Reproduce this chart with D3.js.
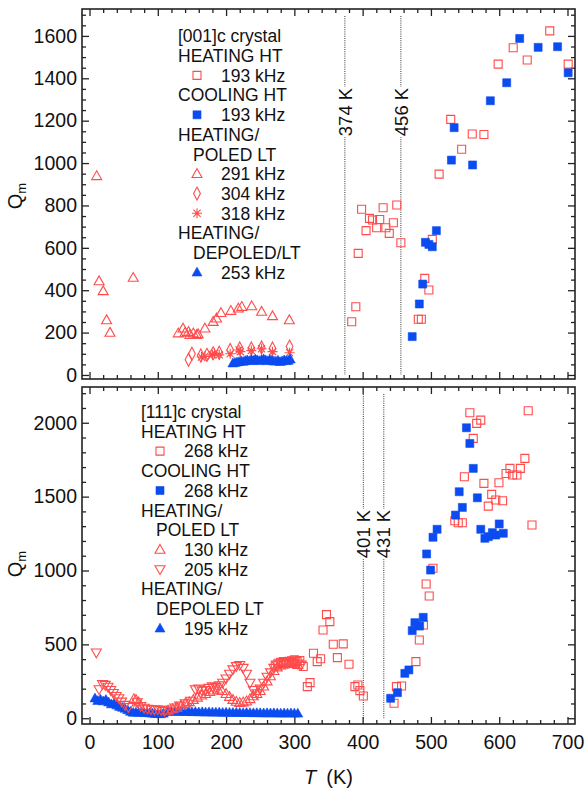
<!DOCTYPE html>
<html lang="en">
<head>
<meta charset="utf-8">
<title>Qm versus temperature</title>
<script src="https://cdn.jsdelivr.net/npm/d3@7"></script>
<style>
  body { margin: 0; background: #fff; }
  svg text { font-family: "Liberation Sans", Arial, Helvetica, sans-serif; fill: #111; }
</style>
</head>
<body>
<script>

// ---------- data ----------

// shared x axis (T in K)
var xTicks = [0, 100, 200, 300, 400, 500, 600, 700];

// top panel: [001]c crystal
var topYTicks = [0, 200, 400, 600, 800, 1000, 1200, 1400, 1600];
var topLines = [374, 456];

var topHeatT = [384, 390, 393.5, 398.5, 405, 410, 414.5, 420.5, 425, 430, 434, 439, 445, 450, 456,
                481.5, 486, 491, 497, 502, 512, 529, 545, 560.5, 577.6, 598.5, 620.5, 641, 674, 701];
var topHeatQ = [251, 322, 574, 782, 681, 739, 731, 695, 734, 789, 695, 668, 718, 802, 624,
                263, 263, 456, 401, 640, 948, 1206, 1065, 1137, 1135, 1467, 1544, 1486, 1624, 1467];

var topCoolT = [472.6, 483, 488, 492, 497, 502, 508, 530, 534, 561, 587, 611, 630, 657, 685.5, 701];
var topCoolQ = [181, 335, 429, 626, 616, 605, 681, 1014, 1167, 991, 1294, 1379, 1588, 1546, 1549, 1426];

var top291T = [10.5, 14, 20, 25, 30, 64, 130, 137, 140, 145, 147, 152, 157, 159, 169, 181, 186, 192.5,
               207, 218, 223, 237.5, 252, 268, 292.6];
var top291Q = [939, 443, 396, 259, 200, 459, 197, 220, 200, 204, 189, 197, 189, 193, 220, 251, 267, 293,
               303, 314, 322, 325, 299, 278, 259];

var top304T = [145, 150, 163, 172, 181, 190, 206, 220, 237, 252, 268, 293];
var top304Q = [72, 100, 92, 95, 102, 105, 118, 125, 125, 130, 125, 134];

var top318T = [164, 169, 180, 183, 190, 206, 219, 221, 237, 252, 268, 293];
var top318Q = [85, 88, 95, 102, 95, 100, 118, 110, 115, 124, 110, 105];

var top253T = [210, 213, 216, 219, 222, 225, 228, 231, 234, 237, 240, 243, 246, 249, 252, 255, 258,
               261, 264, 267, 270, 273, 276, 279, 282, 285, 288, 291, 294];
var top253Q = [55, 58, 60, 62, 65, 63, 67, 70, 66, 72, 68, 74, 70, 66, 72, 75, 70, 66, 72, 68, 65,
               64, 68, 62, 65, 70, 66, 68, 74];

// bottom panel: [111]c crystal
var botYTicks = [0, 500, 1000, 1500, 2000];
var botLines = [401, 431];

var botHeatT = [272, 276, 280, 284, 288, 292, 296, 300, 304, 308, 313, 319, 323, 328, 333.5, 338.5,
                342, 347, 352, 357, 363, 371.6, 380, 388.7, 393, 396, 401, 446, 449.5, 457, 478, 483,
                489, 493, 497.5, 503, 535, 540, 546, 549, 557, 562, 567, 573, 577.6, 584, 589, 595,
                599.6, 605, 610, 615.7, 619.6, 626, 631, 637.6, 642.5, 648];
var botHeatQ = [360, 372, 378, 383, 380, 385, 388, 395, 383, 390, 350, 214, 241, 440, 383, 403,
                597, 701, 654, 501, 410, 503, 365, 214, 225, 187, 151, 101, 214, 218, 383, 530,
                631, 909, 827, 1015, 1337, 1323, 1323, 1635, 2068, 1894, 1996, 2018, 1590, 1436, 1515, 1477,
                1594, 1472, 1657, 1691, 1646, 1646, 1691, 1759, 2081, 1308];

var botCoolT = [441, 451, 461.8, 467.7, 472.6, 476.5, 483.5, 488.7, 493.7, 499.5, 503, 509, 536, 541.4,
                546, 552, 557, 562, 568, 573, 579, 584, 590, 595, 600, 606];
var botCoolQ = [135, 173, 304, 327, 593, 647, 624, 683, 1112, 1003, 1225, 1279, 1375, 1533,
                1427, 1966, 1860, 1691, 1492, 1279, 1218, 1229, 1256, 1240, 1315, 1252];

var bot130T = [65, 68, 72, 115, 122, 128, 134, 140, 146, 152, 158, 164, 170, 176, 182, 188, 194, 200,
               205, 210, 215, 220, 225, 230, 235, 240, 245, 250, 255, 260, 265, 270, 275, 280, 285,
               290, 295, 300, 305];
var bot130Q = [130, 125, 108, 52, 62, 72, 85, 98, 110, 125, 140, 155, 165, 178, 188, 195, 185, 165,
               145, 125, 112, 105, 108, 115, 130, 150, 165, 185, 215, 250, 285, 320, 345, 358, 365,
               370, 368, 372, 362];

var bot205T = [10, 14, 19, 23, 27, 31, 35, 39, 43, 47, 52, 57, 70, 75, 80, 85, 90, 95, 100, 105, 110,
               118, 125, 132, 140, 148, 155, 160, 165, 170, 175, 180, 185, 190, 195, 200, 205, 210,
               215, 220, 225, 230, 235, 240, 245, 250, 255, 260, 265, 270, 275, 280, 285, 290, 295,
               300, 305, 310];
var bot205Q = [444, 196, 230, 225, 212, 190, 170, 150, 135, 112, 90, 75, 108, 82, 70, 64, 60, 58, 60,
               55, 48, 58, 72, 85, 100, 118, 195, 200, 185, 190, 205, 215, 210, 222, 240, 268, 300,
               330, 352, 360, 340, 300, 240, 190, 168, 200, 240, 280, 310, 340, 358, 368, 372, 375,
               380, 376, 370, 362];

var bot195T = [8, 12, 16, 20, 24, 28, 32, 36, 40, 44, 48, 52, 56, 60, 64, 68, 72, 76, 80, 84, 88, 92,
               96, 100, 104, 108, 115, 120, 125, 130, 135, 140, 145, 150, 155, 160, 165, 170, 175,
               180, 185, 190, 195, 200, 205, 210, 215, 220, 225, 230, 235, 240, 245, 250, 255, 260,
               265, 270, 275, 280, 285, 290, 295, 300, 305];
var bot195Q = [135, 118, 128, 115, 125, 108, 95, 100, 88, 78, 72, 65, 55, 45, 38, 40, 38, 40, 36, 37,
               34, 33, 30, 30, 28, 32, 44, 45, 46, 44, 45, 43, 44, 42, 43, 41, 42, 40, 41, 40, 39,
               40, 38, 39, 38, 37, 38, 37, 36, 37, 36, 35, 36, 35, 34, 35, 34, 35, 34, 33, 34, 33,
               34, 33, 32];

// ---------- layout ----------
var w = 585, h = 789;
var left = 82, right = 575;
var red = "#ff4b4b", blue = "#0b4cf0";

var svg = d3.select("body").append("svg")
            .attr("width", w)
            .attr("height", h);

var xScale = d3.scaleLinear().domain([-11, 711]).range([left, right]);

// marker shapes
var shapes = {
  square:  "M-4,-4h8v8h-8z",
  triUp:   "M0,-5.2L5,3.6L-5,3.6Z",
  triDown: "M0,5.2L5,-3.6L-5,-3.6Z",
  diamond: "M0,-6.5L3.4,0L0,6.5L-3.4,0Z",
  star:    "M-5,0H5M0,-5V5M-3.6,-3.6L3.6,3.6M-3.6,3.6L3.6,-3.6"
};

function drawMarks(g, T, Q, y, shape, color, filled) {
  g.append("g")
   .selectAll("path")
   .data(d3.zip(T, Q))
   .enter()
   .append("path")
   .attr("transform", function(d) { return "translate(" + xScale(d[0]) + "," + y(d[1]) + ")"; })
   .attr("d", shapes[shape])
   .attr("fill", filled ? color : "none")
   .attr("stroke", color)
   .attr("stroke-width", filled ? 0.6 : 1.1);
}

function range(a, b, step, skip) {
  var out = [];
  for (var v = a; v <= b + 1e-9; v += step) {
    if (skip.indexOf(v) < 0) out.push(v);
  }
  return out;
}

function drawPanel(p) {
  var g = svg.append("g");
  var y = d3.scaleLinear().domain(p.yDomain).range([p.bottom, p.top]);

  var xMinor = range(0, 700, 20, xTicks);
  var yMinor = range(0, p.yMinorMax, p.yMinorStep, p.yTicks);

  // ticks (inside) on all four sides
  var axes = [
    [d3.axisBottom, xScale, "translate(0," + p.bottom + ")", xTicks, xMinor, p.xLabels],
    [d3.axisTop, xScale, "translate(0," + p.top + ")", xTicks, xMinor, false],
    [d3.axisLeft, y, "translate(" + left + ",0)", p.yTicks, yMinor, true],
    [d3.axisRight, y, "translate(" + right + ",0)", p.yTicks, yMinor, false]
  ];
  axes.forEach(function(a) {
    var major = a[0](a[1]).tickValues(a[3]).tickSize(-7)
                  .tickPadding(a[0] === d3.axisBottom ? 11 : 5)
                  .tickFormat(d3.format("d"));
    if (!a[5]) major.tickFormat("");
    var minor = a[0](a[1]).tickValues(a[4]).tickSize(-4).tickFormat("");
    [minor, major].forEach(function(ax) {
      var ga = g.append("g").attr("transform", a[2]).call(ax);
      ga.select(".domain").remove();
      ga.selectAll("line").attr("stroke", "#222").attr("stroke-width", 1.3);
      ga.selectAll("text").attr("font-size", "19.5px").attr("fill", "#111")
        .attr("font-family", "Liberation Sans, Arial, sans-serif");
    });
  });

  // frame
  g.append("rect")
   .attr("x", left).attr("y", p.top)
   .attr("width", right - left).attr("height", p.bottom - p.top)
   .attr("fill", "none").attr("stroke", "#222").attr("stroke-width", 1.6);

  // transition lines with labels
  p.lines.forEach(function(t) {
    var lx = xScale(t);
    g.append("line")
     .attr("x1", lx).attr("x2", lx)
     .attr("y1", p.top + 7).attr("y2", y(0))
     .attr("stroke", "#333").attr("stroke-width", 1)
     .attr("stroke-dasharray", "1,1.2");
    var lab = g.append("g").attr("transform", "translate(" + lx + "," + p.lineLabelY + ") rotate(-90)");
    var bg = lab.append("rect").attr("fill", "#fff");
    var txt = lab.append("text")
       .attr("text-anchor", "middle")
       .attr("dy", "0.36em")
       .attr("font-size", "18.5px")
       .text(t + " K");
    var len = txt.node().getComputedTextLength();
    bg.attr("x", -len / 2 - 1).attr("y", -7).attr("width", len + 2).attr("height", 14);
  });

  // data
  p.series.forEach(function(s) {
    drawMarks(g, s.T, s.Q, y, s.shape, s.color, s.filled);
  });

  // legend
  var lg = g.append("g");
  p.legend.forEach(function(r, i) {
    var cy = p.legendY + i * 19.7;
    if (r.shape) {
      lg.append("path")
        .attr("transform", "translate(" + (p.legendX + 19) + "," + cy + ")")
        .attr("d", shapes[r.shape])
        .attr("fill", r.filled ? r.color : "none")
        .attr("stroke", r.color)
        .attr("stroke-width", r.filled ? 0.6 : 1.1);
      lg.append("text")
        .attr("x", p.legendX + 43).attr("y", cy).attr("dy", "0.36em")
        .attr("font-size", "17.5px").text(r.text);
    } else {
      lg.append("text")
        .attr("x", p.legendX + (r.indent ? 15 : 0)).attr("y", cy).attr("dy", "0.36em")
        .attr("font-size", "17.5px").text(r.text);
    }
  });

  // y label
  var ql = g.append("text")
     .attr("transform", "translate(" + 22 + "," + p.qLabelY + ") rotate(-90)")
     .attr("text-anchor", "middle")
     .attr("font-size", "20px");
  ql.append("tspan").text("Q");
  ql.append("tspan").attr("font-size", "13px").attr("dy", "4").text("m");
}

drawPanel({
  top: 9, bottom: 379, yDomain: [-19, 1727],
  yTicks: topYTicks, yMinorStep: 50, yMinorMax: 1700,
  xLabels: false, lines: topLines, lineLabelY: 112, qLabelY: 196,
  legendX: 178, legendY: 36,
  series: [
    { T: topHeatT, Q: topHeatQ, shape: "square", color: red, filled: false },
    { T: top291T, Q: top291Q, shape: "triUp", color: red, filled: false },
    { T: top304T, Q: top304Q, shape: "diamond", color: red, filled: false },
    { T: top318T, Q: top318Q, shape: "star", color: red, filled: false },
    { T: top253T, Q: top253Q, shape: "triUp", color: blue, filled: true },
    { T: topCoolT, Q: topCoolQ, shape: "square", color: blue, filled: true }
  ],
  legend: [
    { text: "[001]c crystal" },
    { text: "HEATING HT" },
    { text: "193 kHz", shape: "square", color: red, filled: false },
    { text: "COOLING HT" },
    { text: "193 kHz", shape: "square", color: blue, filled: true },
    { text: "HEATING/" },
    { text: "POLED LT", indent: true },
    { text: "291 kHz", shape: "triUp", color: red, filled: false },
    { text: "304 kHz", shape: "diamond", color: red, filled: false },
    { text: "318 kHz", shape: "star", color: red, filled: false },
    { text: "HEATING/" },
    { text: "DEPOLED/LT", indent: true },
    { text: "253 kHz", shape: "triUp", color: blue, filled: true }
  ]
});

drawPanel({
  top: 387, bottom: 724, yDomain: [-39, 2242],
  yTicks: botYTicks, yMinorStep: 100, yMinorMax: 2200,
  xLabels: true, lines: botLines, lineLabelY: 534, qLabelY: 564,
  legendX: 141, legendY: 411.7,
  series: [
    { T: bot195T, Q: bot195Q, shape: "triUp", color: blue, filled: true },
    { T: bot130T, Q: bot130Q, shape: "triUp", color: red, filled: false },
    { T: bot205T, Q: bot205Q, shape: "triDown", color: red, filled: false },
    { T: botHeatT, Q: botHeatQ, shape: "square", color: red, filled: false },
    { T: botCoolT, Q: botCoolQ, shape: "square", color: blue, filled: true }
  ],
  legend: [
    { text: "[111]c crystal" },
    { text: "HEATING HT" },
    { text: "268 kHz", shape: "square", color: red, filled: false },
    { text: "COOLING HT" },
    { text: "268 kHz", shape: "square", color: blue, filled: true },
    { text: "HEATING/" },
    { text: "POLED LT", indent: true },
    { text: "130 kHz", shape: "triUp", color: red, filled: false },
    { text: "205 kHz", shape: "triDown", color: red, filled: false },
    { text: "HEATING/" },
    { text: "DEPOLED LT", indent: true },
    { text: "195 kHz", shape: "triUp", color: blue, filled: true }
  ]
});

// x axis title
var xt = svg.append("text")
   .attr("x", (left + right) / 2).attr("y", 784)
   .attr("text-anchor", "middle")
   .attr("font-size", "20px");
xt.append("tspan").attr("font-style", "italic").text("T");
xt.append("tspan").text("\u2002(K)");

</script>
</body>
</html>
